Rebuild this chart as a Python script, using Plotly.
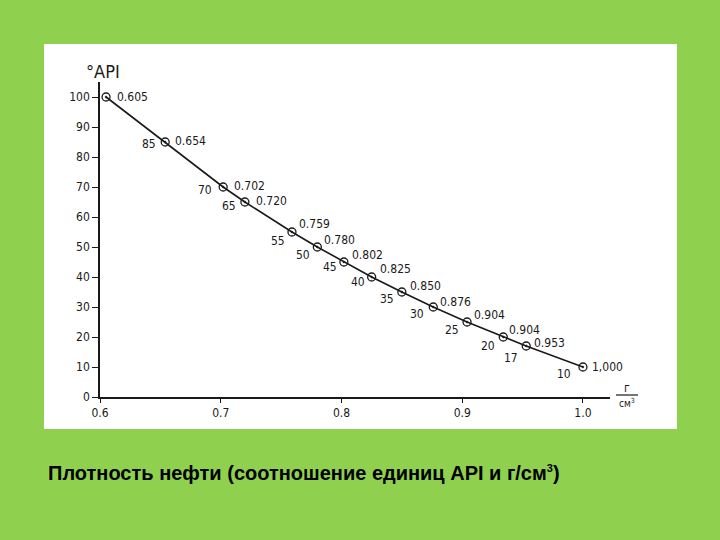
import plotly.graph_objects as go

# Data
density = [0.605, 0.654, 0.702, 0.720, 0.759, 0.780, 0.802, 0.825, 0.850, 0.876, 0.904, 0.934, 0.953, 1.000]
api = [100, 85, 70, 65, 55, 50, 45, 40, 35, 30, 25, 20, 17, 10]
density_labels = ["0.605", "0.654", "0.702", "0.720", "0.759", "0.780", "0.802", "0.825",
                  "0.850", "0.876", "0.904", "0.904", "0.953", "1,000"]
api_labels = ["", "85", "70", "65", "55", "50", "45", "40", "35", "30", "25", "20", "17", "10"]
x_ticks = [0.6, 0.7, 0.8, 0.9, 1.0]
x_tick_text = ["0.6", "0.7", "0.8", "0.9", "1.0"]
y_ticks = [0, 10, 20, 30, 40, 50, 60, 70, 80, 90, 100]

# label offsets in pixels (styling only)
dens_shift = [(9, 0), (8, 1), (9, 1), (9, 1), (5, 8), (5, 7), (6, 7), (6, 8),
              (6, 6), (5, 5), (5, 7), (4, 7), (6, 3), (7, 0)]
api_shift = [(0, 0), (-7, -2), (-9, -3), (-7, -4), (-5, -9), (-5, -8), (-5, -5), (-5, -5),
             (-6, -7), (-7, -7), (-6, -8), (-6, -9), (-6, -12), (-10, -7)]

NARROW = "DejaVu Sans Condensed, Liberation Sans Narrow, Arial Narrow, sans-serif"
INK = "#1a1a1a"

fig = go.Figure()
fig.add_trace(go.Scatter(
    x=density, y=api, mode="lines+markers",
    line=dict(color=INK, width=1.6),
    marker=dict(symbol="circle-open-dot", size=8, color=INK, line=dict(width=1.3, color=INK)),
    cliponaxis=False, showlegend=False, hoverinfo="skip",
))

L, R, T, B = 100, 110, 82, 143
PW, PH = 720 - L - R, 540 - T - B


def px(xp):
    return (xp - L) / PW


def py(yp):
    return (540 - B - yp) / PH


label_font = dict(family=NARROW, size=12, color=INK)
annotations = []
for d, a, t, (sx, sy) in zip(density, api, density_labels, dens_shift):
    annotations.append(dict(x=d, y=a, xref="x", yref="y", text=t, showarrow=False,
                            xanchor="left", yanchor="middle", xshift=sx, yshift=sy,
                            font=label_font))
for d, a, t, (sx, sy) in zip(density, api, api_labels, api_shift):
    if t:
        annotations.append(dict(x=d, y=a, xref="x", yref="y", text=t, showarrow=False,
                                xanchor="right", yanchor="middle", xshift=sx, yshift=sy,
                                font=label_font))

annotations += [
    dict(text="°API", xref="paper", yref="paper", x=px(84), y=py(72),
         xanchor="left", yanchor="middle", showarrow=False,
         font=dict(family=NARROW, size=18, color=INK)),
    dict(text="г", xref="paper", yref="paper", x=px(627), y=py(388),
         xanchor="center", yanchor="middle", showarrow=False,
         font=dict(family=NARROW, size=12, color=INK)),
    dict(text="см<sup>3</sup>", xref="paper", yref="paper", x=px(627), y=py(403),
         xanchor="center", yanchor="middle", showarrow=False,
         font=dict(family=NARROW, size=10, color=INK)),
    dict(text="Плотность нефти (соотношение единиц API и г/см<sup><span style='font-size:11px'>3</span></sup>)",
         xref="paper", yref="paper", x=px(46), y=py(473),
         xanchor="left", yanchor="middle", showarrow=False,
         font=dict(family="Liberation Sans, Arial, sans-serif", size=20, color="black",
                   weight="bold")),
]

fig.update_layout(
    width=720, height=540,
    margin=dict(l=L, r=R, t=T, b=B, pad=0),
    paper_bgcolor="#8fd14f",
    plot_bgcolor="white",
    xaxis=dict(range=[0.6, 1.0224], tickvals=x_ticks, ticktext=x_tick_text,
               showgrid=False, zeroline=False, showline=True, linecolor=INK, linewidth=1.5,
               ticks="outside", ticklen=4, tickcolor=INK, tickwidth=1.2,
               tickfont=dict(family=NARROW, size=12, color=INK)),
    yaxis=dict(range=[0, 105], tickvals=y_ticks,
               showgrid=False, zeroline=False, showline=True, linecolor=INK, linewidth=1.5,
               ticks="outside", ticklen=6, tickcolor=INK, tickwidth=1.2,
               tickfont=dict(family=NARROW, size=12, color=INK)),
    shapes=[
        dict(type="rect", xref="paper", yref="paper",
             x0=px(44), x1=px(677), y0=py(429), y1=py(44),
             fillcolor="white", line=dict(width=0), layer="below"),
        dict(type="line", xref="paper", yref="paper",
             x0=px(616), x1=px(638), y0=py(395), y1=py(395),
             line=dict(color=INK, width=1.2)),
    ],
    annotations=annotations,
)

fig.write_html("out.html", config={"displayModeBar": False},
               post_script="document.body.style.margin='0';document.body.style.overflow='hidden';")
